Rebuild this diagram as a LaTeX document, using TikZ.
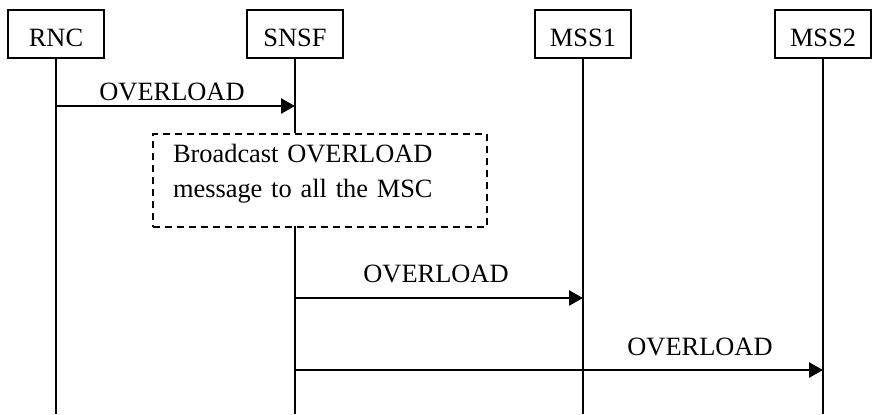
\documentclass[tikz,border=0pt]{standalone}
\usepackage{fontspec}
\setmainfont{Liberation Serif}
\usetikzlibrary{arrows.meta}

\begin{document}
\begin{tikzpicture}[x=0.5pt,y=-0.5pt,
  every node/.style={font=\fontsize{13.2}{17.5}\selectfont},
  entity/.style={draw,line width=0.9pt,minimum width=48pt,minimum height=24pt,
    inner sep=0pt,text height=12pt,text depth=0pt},
  life/.style={line width=0.9pt},
  msg/.style={line width=1.3pt,-{Triangle[length=7pt,width=7.5pt]}},
  notebox/.style={draw,line width=0.9pt,dash pattern=on 3.5pt off 2.5pt,
    text width=147pt,align=left,inner xsep=10pt,inner ysep=5.5pt,
    text height=9pt,text depth=26.5pt}]
\useasboundingbox (0,0) rectangle (886,414);
\node[entity] at (56,34) (rnc) {RNC};
\node[entity] at (295,34) (snsf) {SNSF};
\node[entity] at (583,34) (mss1) {MSS1};
\node[entity] at (823,34) (mss2) {MSS2};
\node[notebox,anchor=north] at (320,133) (bcast) {Broadcast OVERLOAD\\message to all the MSC};
\coordinate (rncend) at (56,414);
\coordinate (snsfend) at (295,414);
\coordinate (mss1end) at (583,414);
\coordinate (mss2end) at (823,414);
\coordinate (snsfup) at (295,133);
\coordinate (snsfdown) at (295,226);
% lifelines
\draw[life] (rnc) -- (rncend);
\draw[life] (snsf) -- (snsfup);
\draw[life] (snsfdown) -- (snsfend);
\draw[life] (mss1) -- (mss1end);
\draw[life] (mss2) -- (mss2end);
% messages
\coordinate (rnc1) at (56,106);
\coordinate (snsf1) at (295,106);
\coordinate (snsf2) at (295,298);
\coordinate (mss12) at (583,298);
\coordinate (snsf3) at (295,370);
\coordinate (mss23) at (823,370);
\draw[msg] (rnc1) -- (snsf1);
\draw[msg] (snsf2) -- (mss12);
\draw[msg] (snsf3) -- (mss23);
\node at (172,92) (ol1) {OVERLOAD};
\node at (436,274) (ol2) {OVERLOAD};
\node at (700,347) (ol3) {OVERLOAD};
\end{tikzpicture}
\end{document}
